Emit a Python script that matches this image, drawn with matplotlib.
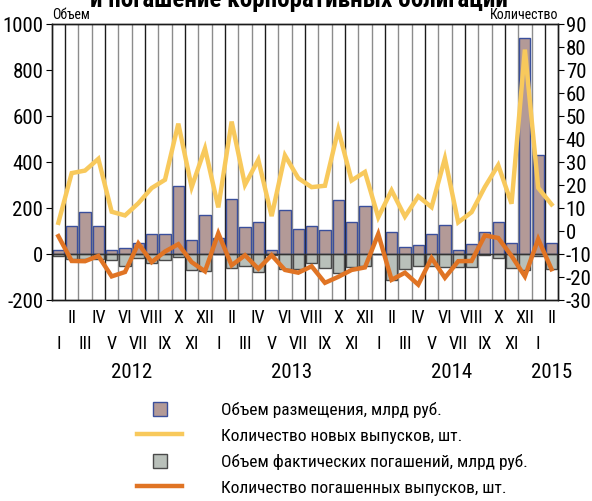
from __future__ import annotations

import matplotlib

matplotlib.use("Agg")
import matplotlib.pyplot as plt
from matplotlib import font_manager
from matplotlib.lines import Line2D
from matplotlib.transforms import blended_transform_factory

# Months Jan 2012 .. Feb 2015
MONTHS = ["I", "II", "III", "IV", "V", "VI", "VII", "VIII", "IX", "X", "XI", "XII"] * 3 + ["I", "II"]
YEARS = ["2012", "2013", "2014", "2015"]

# Placement volume, bn rub
PLACED = [17, 125, 182, 124, 20, 26, 47, 89, 90, 295, 61, 169,
          72, 242, 120, 139, 19, 193, 112, 124, 105, 236, 139, 210,
          0, 95, 32, 40, 88, 128, 19, 45, 97, 142, 48, 940,
          433, 51]
# Actual redemptions, bn rub (negative)
REDEEMED = [-7, -22, -22, -20, -26, -53, -15, -38, -23, -12, -70, -74,
            0, -58, -50, -76, -3, -63, -66, -38, -60, -80, -55, -50,
            0, -110, -66, -52, -53, -56, -56, -54, -3, -14, -58, -70,
            -8, -66]
# Number of new issues
NEW_COUNT = [3.7, 25.3, 26.4, 31.5, 8.5, 6.9, 12.2, 18.8, 22.4, 46.8, 19.2, 36,
             10.4, 47.7, 20.2, 31.1, 6.6, 33, 23.1, 19.2, 19.8, 44.2, 22.1, 25.8,
             6.1, 17.8, 6.4, 15.2, 10.5, 31.7, 3.9, 8.3, 19.3, 28.8, 12, 79,
             18.9, 11.7]
# Number of redeemed issues
RED_COUNT = [-2.1, -12.9, -13, -10.7, -19.6, -17.7, -5.3, -13.4, -8.8, -5.6, -13.4, -17.4,
             -0.9, -14.8, -10.4, -16.3, -10.4, -16.8, -18, -15.2, -22.4, -19.8, -16.8, -15.7,
             -1.2, -21.1, -18, -23.2, -11.6, -20.2, -13, -12.9, -1.8, -2.9, -10.7, -19.6,
             -3.4, -16.5]

LABELS = [
    "Объем размещения, млрд руб.",
    "Количество новых выпусков, шт.",
    "Объем фактических погашений, млрд руб.",
    "Количество погашенных выпусков, шт.",
]

BROWN = "#b39a97"
BROWN_EDGE = "#3a4f9c"
GREY = "#b9c0ba"
GREY_EDGE = "#4a4a4a"
YELLOW = "#f8c95c"
ORANGE = "#e07424"


def pick_font() -> tuple[str, bool]:
    # the reference uses a condensed face; take one if the box has it
    names = {f.name for f in font_manager.fontManager.ttflist}
    for cand in ["Liberation Sans Narrow", "Roboto Condensed", "Noto Sans Condensed",
                 "Open Sans Condensed", "DejaVu Sans Condensed"]:
        if cand in names:
            return cand, True
    return "Liberation Sans", False


FONT, CONDENSED = pick_font()
K = 1.0 if CONDENSED else 0.84
plt.rcParams["font.family"] = [FONT, "DejaVu Sans"]
plt.rcParams["axes.unicode_minus"] = False  # plain hyphen like the reference


def main() -> None:
    fig = plt.figure(figsize=(5.92, 5.01), dpi=100)
    ax = fig.add_axes([51.7 / 592, 1 - 300.3 / 501, (558.2 - 51.7) / 592, 276 / 501])
    n = len(PLACED)
    x = list(range(n))

    # column separators, every third one darker
    for k in range(1, n):
        ax.axvline(k - 0.5, color="#1a1a1a" if k % 3 == 1 else "#8c8c8c", lw=1.0, zorder=0)

    ax.bar(x, PLACED, width=0.84, color=BROWN, edgecolor=BROWN_EDGE, linewidth=1.0, zorder=2)
    ax.bar(x, REDEEMED, width=0.84, color=GREY, edgecolor=GREY_EDGE, linewidth=1.0, zorder=2)
    ax.axhline(0, color="#333333", lw=1.0, zorder=3)

    ax.set_xlim(-0.5, n - 0.5)
    ax.set_ylim(-200, 1000)
    ax.set_yticks(range(-200, 1001, 200))
    ax.tick_params(axis="y", labelsize=15 * K, length=4, width=0.8, pad=2)

    # two rows of month labels
    ax.set_xticks(x[0::2])
    ax.set_xticklabels(MONTHS[0::2])
    ax.set_xticks(x[1::2], minor=True)
    ax.set_xticklabels(MONTHS[1::2], minor=True)
    ax.tick_params(axis="x", which="major", length=0, labelsize=13 * K, pad=25)
    ax.tick_params(axis="x", which="minor", length=0, labelsize=13 * K, pad=6)

    trans = blended_transform_factory(ax.transData, ax.transAxes)
    for label, pos in zip(YEARS, [5.5, 17.5, 29.5, 37.0]):
        ax.text(pos, -0.26, label, transform=trans, ha="center", va="center", fontsize=15 * K)

    ax2 = ax.twinx()
    ax2.plot(x, NEW_COUNT, color=YELLOW, lw=3.2, solid_joinstyle="miter", zorder=4)
    ax2.plot(x, RED_COUNT, color=ORANGE, lw=3.2, solid_joinstyle="miter", zorder=4)
    ax2.set_ylim(-30, 90)
    ax2.set_yticks(range(-30, 91, 10))
    ax2.tick_params(axis="y", labelsize=15 * K, length=4, width=0.8, pad=1.5)

    for a in (ax, ax2):
        for s in a.spines.values():
            s.set_color("#1a1a1a")
            s.set_linewidth(1.0)

    ax.text(0.0, 1.01, "Объем", transform=ax.transAxes, ha="left", va="bottom", fontsize=10 * K)
    ax.text(1.0, 1.01, "Количество", transform=ax.transAxes, ha="right", va="bottom",
            fontsize=10 * K)

    # title is cut off by the top edge in the reference
    fig.text(299 / 592, 1 - 7 / 501, "и погашение корпоративных облигаций",
             ha="center", va="baseline", fontsize=18 * K, fontweight="bold")

    handles = [
        Line2D([], [], ls="none", marker="s", ms=9.5, mfc=BROWN, mec=BROWN_EDGE, mew=1.0),
        Line2D([], [], color=YELLOW, lw=3.2),
        Line2D([], [], ls="none", marker="s", ms=9.5, mfc=GREY, mec=GREY_EDGE, mew=1.0),
        Line2D([], [], color=ORANGE, lw=3.2),
    ]
    fs = 12.5 * K
    px = fs * 100 / 72
    fig.legend(handles, LABELS, loc="upper left", bbox_to_anchor=(137 / 592, 1 - 402 / 501),
               frameon=False, fontsize=fs, handlelength=45 / px, handletextpad=39 / px,
               labelspacing=0.6, borderpad=0, borderaxespad=0)

    fig.savefig("out.png", dpi=100)
    plt.close(fig)


if __name__ == "__main__":
    main()
